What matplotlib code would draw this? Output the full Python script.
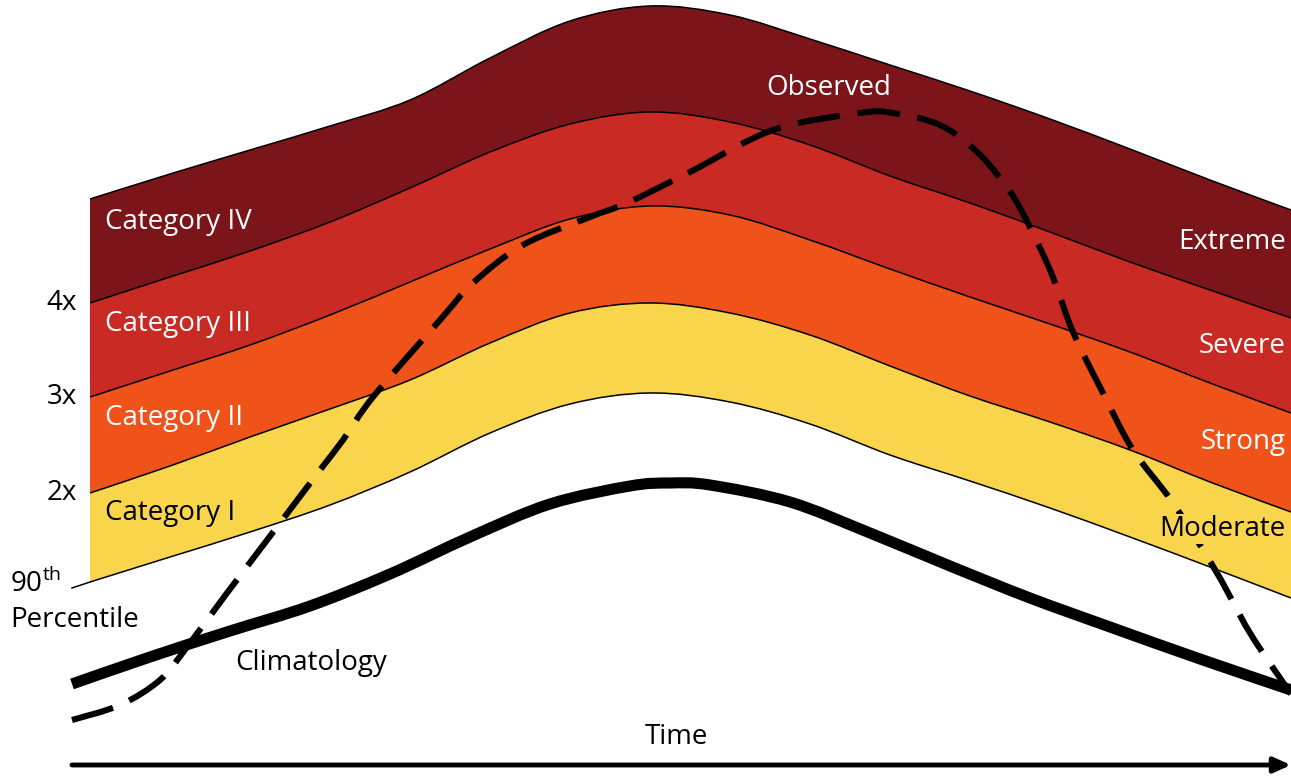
import numpy as np
import matplotlib.pyplot as plt
from matplotlib.path import Path
from matplotlib.patches import PathPatch

# Schematic, in picture coordinates (x to the right, y downwards)
band_x = [90, 170, 250, 330, 410, 490, 570, 650, 730, 810, 890, 970, 1050, 1130, 1210, 1291]
top_5x = [199, 174, 150, 126, 100, 58, 21, 6, 15, 39, 65, 91, 119, 149, 180, 210]
thr_4x = [303, 277, 251, 222, 188, 152, 124, 112, 122, 145, 176, 203, 232, 262, 290, 318]
thr_3x = [397, 371, 345, 315, 282, 249, 219, 206, 215, 240, 269, 297, 324, 352, 383, 413]
thr_2x = [493, 466, 437, 409, 380, 343, 313, 303, 313, 335, 366, 396, 422, 450, 482, 512]
pct_90 = [582, 557, 532, 505, 472, 433, 404, 393, 402, 424, 455, 481, 508, 537, 567, 598]

clim_x = [72, 150, 230, 310, 390, 470, 550, 630, 670, 710, 790, 870, 950, 1030, 1110, 1200, 1291]
clim_y = [684, 657, 631, 606, 574, 537, 504, 486, 483, 485, 502, 533, 566, 598, 627, 659, 690]

obs_x = [72, 120, 160, 187, 227, 280, 320, 343, 373, 440, 473, 523, 590, 627, 690, 773, 860,
         893, 940, 975, 1000, 1020, 1050, 1073, 1103, 1133, 1173, 1217, 1250, 1291]
obs_y = [720, 705, 680, 647, 593, 523, 470, 440, 397, 320, 283, 245, 217, 203, 172, 130, 113,
         113, 125, 150, 178, 208, 270, 332, 393, 450, 503, 573, 633, 694]

band_colors = ['#7b151a', '#c92a23', '#ef5319', '#f9d54b']
band_names = ['Category IV', 'Category III', 'Category II', 'Category I']
band_levels = ['Extreme', 'Severe', 'Strong', 'Moderate']
mult_labels = ['4x', '3x', '2x']

plt.rcParams['font.family'] = ['Open Sans', 'DejaVu Sans']
plt.rcParams['mathtext.fontset'] = 'custom'
plt.rcParams['mathtext.rm'] = 'Open Sans'


def bezier_segments(xs, ys):
    # smooth curve through the read points (Catmull-Rom as cubic Bezier)
    p = np.column_stack([xs, ys]).astype(float)
    p = np.vstack([p[0], p, p[-1]])
    segs = []
    for i in range(1, len(p) - 2):
        c1 = p[i] + (p[i + 1] - p[i - 1]) / 6
        c2 = p[i + 1] - (p[i + 2] - p[i]) / 6
        segs.append((p[i], c1, c2, p[i + 1]))
    return segs


def curve_path(xs, ys):
    segs = bezier_segments(xs, ys)
    verts = [segs[0][0]]
    codes = [Path.MOVETO]
    for s in segs:
        verts += [s[1], s[2], s[3]]
        codes += [Path.CURVE4] * 3
    return Path(verts, codes)


def band_path(xs, upper, lower):
    up = bezier_segments(xs, upper)
    lo = bezier_segments(xs, lower)
    verts = [up[0][0]]
    codes = [Path.MOVETO]
    for s in up:
        verts += [s[1], s[2], s[3]]
        codes += [Path.CURVE4] * 3
    verts.append(lo[-1][3])
    codes.append(Path.LINETO)
    for s in reversed(lo):
        verts += [s[2], s[1], s[0]]
        codes += [Path.CURVE4] * 3
    verts.append(up[0][0])
    codes.append(Path.CLOSEPOLY)
    return Path(verts, codes)


fig = plt.figure(figsize=(12.91, 7.79), dpi=100)
ax = fig.add_axes([0, 0, 1, 1])
ax.set_xlim(0, 1291)
ax.set_ylim(779, 0)
ax.axis('off')

bounds = [top_5x, thr_4x, thr_3x, thr_2x, pct_90]
for i, color in enumerate(band_colors):
    ax.add_patch(PathPatch(band_path(band_x, bounds[i], bounds[i + 1]),
                           facecolor=color, edgecolor='none', zorder=1))

# thin threshold lines (the 90th percentile one runs a bit further left)
for b in bounds:
    ax.add_patch(PathPatch(curve_path(band_x, b), facecolor='none',
                           edgecolor='black', lw=1.1, zorder=5))
ax.plot([72, band_x[0]], [pct_90[0] + 6, pct_90[0]], color='black', lw=1.1, zorder=5)

# climatology
ax.add_patch(PathPatch(curve_path(clim_x, clim_y), facecolor='none',
                       edgecolor='black', lw=8, capstyle='butt', zorder=5))

# observed
ax.add_patch(PathPatch(curve_path(obs_x, obs_y), facecolor='none', edgecolor='black',
                       lw=4.4, linestyle=(0, (7.0, 2.9)), capstyle='butt', zorder=3))

fs = 20
label_y = [222, 324, 418, 513]
right_y = [242, 346, 442, 529]
for i in range(4):
    tc = 'black' if i == 3 else 'white'
    ax.text(105, label_y[i], band_names[i], color=tc, fontsize=fs, va='center', ha='left', zorder=6)
    bbox = dict(facecolor=band_colors[i], edgecolor='none', pad=1) if i == 3 else None
    ax.text(1286, right_y[i], band_levels[i], color=tc, fontsize=fs, va='center', ha='right',
            zorder=4, bbox=bbox)

for lab, b in zip(mult_labels, [thr_4x, thr_3x, thr_2x]):
    ax.text(77, b[0], lab, fontsize=fs, va='center', ha='right')

ax.text(10, 584, '90$^{\\mathrm{th}}$', fontsize=fs, va='center', ha='left')
ax.text(10, 620, 'Percentile', fontsize=fs, va='center', ha='left')
ax.text(829, 88, 'Observed', color='white', fontsize=fs, va='center', ha='center', zorder=6)
ax.text(235, 663, 'Climatology', fontsize=fs, va='center', ha='left')
ax.text(676, 737, 'Time', fontsize=fs, va='center', ha='center')

ax.annotate('', xy=(1291, 765), xytext=(72, 765),
            arrowprops=dict(arrowstyle='-|>,head_length=1.0,head_width=0.45',
                            lw=3.5, color='black', shrinkA=0, shrinkB=0))

fig.savefig('out.png', dpi=100)
